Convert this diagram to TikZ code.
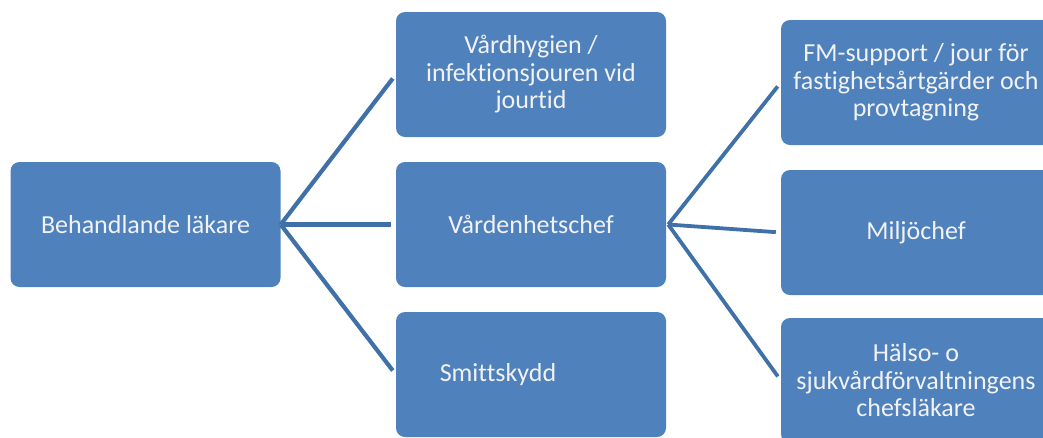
\documentclass[tikz,border=0pt]{standalone}
\usepackage{fontspec}
\setmainfont{Carlito}[Ligatures={NoCommon}]
\definecolor{boxblue}{RGB}{79,129,189}
\definecolor{lineblue}{RGB}{64,112,168}
\definecolor{txt}{RGB}{242,242,242}
\begin{document}
\begin{tikzpicture}[x=1pt,y=-1pt,
  box/.style={fill=boxblue,rounded corners=9pt,minimum width=270pt,minimum height=125pt,inner sep=0pt,
    text=txt,align=center,font=\fontsize{26}{27.5}\selectfont},
  lbl/.style={text=txt,inner sep=0pt,font=\fontsize{26}{27.5}\selectfont},
  conn/.style={draw=lineblue,line width=4.2pt,shorten >=5pt}]
\clip (0,0) rectangle (1043,437);
\useasboundingbox (0,0) rectangle (1043,437);
\node[box] (A) at (145.5,224.5) {Behandlande läkare};
\node[box] (B) at (531,74.5) {Vårdhygien /\\infektionsjouren vid\\jourtid};
\node[box] (C) at (531,224.5) {Vårdenhetschef};
\node[box] (D) at (531,374.5) {};
\node[lbl] (Dt) at (498,375) {Smittskydd};
\node[box] (E) at (916,82.5) {FM-support / jour för\\fastighetsårtgärder och\\provtagning};
\node[box] (F) at (916,232.5) {Miljöchef};
\node[box] (G) at (916,380.5) {Hälso- o\\sjukvårdförvaltningens\\chefsläkare};
\draw[conn] (A.east) -- (B.west);
\draw[conn] (A.east) -- (C.west);
\draw[conn] (A.east) -- (D.west);
\draw[conn,line width=3.8pt] ([xshift=2pt]C.east) -- (E.west);
\draw[conn,line width=3.8pt] ([xshift=2pt]C.east) -- (F.west);
\draw[conn,line width=3.8pt] ([xshift=2pt]C.east) -- (G.west);
\end{tikzpicture}
\end{document}
